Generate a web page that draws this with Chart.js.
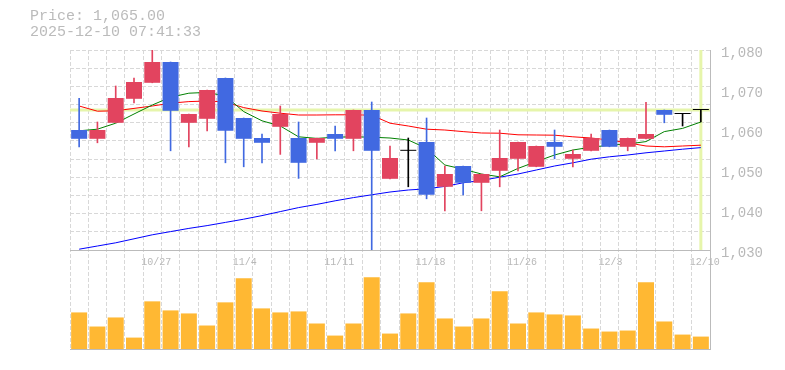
<!DOCTYPE html>
<html>
<head>
<meta charset="utf-8">
<script src="https://cdn.jsdelivr.net/npm/chart.js@4.4.1/dist/chart.umd.min.js"></script>
<style>
    body { margin: 0; background: #fff; }
    #wrap { position: relative; width: 785px; height: 370px; }
    #info {
        position: absolute;
        left: 30px;
        top: 9px;
        font: 15px "Liberation Mono", "DejaVu Sans Mono", monospace;
        line-height: 16px;
        color: #bbb;
        white-space: pre;
    }
</style>
</head>
<body>
<div id="wrap">
    <canvas id="chart" width="785" height="370"></canvas>
    <div id="info">Price: 1,065.00
2025-12-10 07:41:33</div>
</div>
<script>
// Trading days shown on the chart
const dates = ['10/21','10/22','10/23','10/24','10/27','10/28','10/29','10/30','10/31',
    '11/4','11/5','11/6','11/7','11/10','11/11','11/12','11/13','11/14',
    '11/17','11/18','11/19','11/20','11/21','11/25','11/26','11/27','11/28',
    '12/1','12/2','12/3','12/4','12/5','12/8','12/9','12/10'];
const dateTicks = ['10/27','11/4','11/11','11/18','11/26','12/3','12/10'];
const priceTicks = [1030, 1040, 1050, 1060, 1070, 1080];

// Daily OHLC
const opens  = [1060.0,1057.8,1061.8,1067.8,1071.8,1077.0,1061.8,1062.8,1073.0,1063.0,1058.0,1060.8,1058.0,1056.8,1059.0,1057.8,1065.0,1047.8,1054.8,1057.0,1045.8,1051.0,1046.8,1049.8,1052.8,1050.8,1057.0,1052.8,1054.8,1060.0,1055.8,1057.8,1065.0,1064.0,1065.0];
const highs  = [1067.9,1062.0,1071.0,1073.0,1081.0,1077.0,1064.0,1070.0,1073.0,1063.0,1059.0,1066.0,1062.0,1058.0,1061.0,1065.0,1067.0,1056.0,1058.0,1063.0,1051.0,1051.0,1049.0,1060.0,1057.0,1056.0,1060.0,1055.0,1059.0,1060.0,1058.0,1066.9,1065.0,1064.0,1065.0];
const lows   = [1055.8,1056.8,1061.8,1066.8,1071.8,1054.8,1055.8,1059.8,1051.8,1050.8,1051.8,1053.9,1047.9,1052.8,1054.8,1054.8,1030.0,1047.8,1045.8,1042.8,1039.8,1043.8,1039.8,1045.8,1049.8,1050.8,1052.8,1050.8,1054.8,1055.8,1054.8,1057.8,1061.8,1061.0,1062.0];
const closes = [1057.8,1060.0,1068.0,1072.0,1077.0,1064.8,1064.0,1070.0,1059.8,1057.8,1056.8,1064.0,1051.8,1058.0,1057.8,1065.0,1054.8,1053.0,1054.8,1043.8,1049.0,1046.8,1049.0,1053.0,1057.0,1056.0,1055.8,1054.0,1058.0,1055.8,1058.0,1059.0,1063.8,1064.0,1065.0];

// Moving averages
const ma5  = [1059.8,1060.2,1061.7,1064.0,1066.25,1068.2,1069.2,1069.4,1068.5,1064.6,1062.3,1061.0,1058.3,1057.9,1058.2,1058.3,1058.2,1058.0,1057.5,1055.4,1051.25,1050.2,1049.0,1048.3,1050.4,1052.1,1053.75,1055.0,1055.7,1056.2,1056.5,1057.1,1059.6,1060.4,1062.0];
const ma25 = [1066.0,1064.7,1064.8,1065.4,1066.0,1066.7,1067.1,1067.25,1067.0,1065.6,1064.75,1064.2,1063.75,1063.75,1063.8,1063.8,1063.7,1061.7,1061.0,1060.2,1060.0,1059.6,1059.25,1059.2,1058.8,1058.75,1058.7,1058.3,1058.0,1057.5,1056.8,1056.0,1055.8,1056.0,1056.2];
const ma75 = [1030.2,1031.0,1031.8,1032.8,1033.8,1034.6,1035.4,1036.1,1036.9,1037.7,1038.6,1039.6,1040.6,1041.4,1042.3,1043.1,1043.8,1044.5,1045.0,1045.3,1045.9,1046.8,1047.4,1048.2,1049.0,1050.0,1051.0,1051.8,1052.7,1053.3,1053.75,1054.3,1054.75,1055.2,1055.6];

// Volume (thousand shares)
const volumes = [1090,670,940,340,1420,1150,1060,700,1390,2110,1210,1090,1120,760,400,760,2140,460,1060,1990,910,670,910,1720,760,1090,1030,1000,610,520,550,1990,820,430,370];

const lastPrice = 1065;

const UP = '#e2445f';
const DOWN = '#4169e1';
const FLAT = '#000000';
const candleColors = opens.map((o, i) => closes[i] > o ? UP : (closes[i] < o ? DOWN : FLAT));

const gridColor = '#d8d8d8';
const axisColor = '#bbbbbb';
const textColor = '#b8b8b8';
const markColor = '#e6f5ab';
const dash = [4, 2];

function isLabelOnly(v) {
    return priceTicks.includes(v) && v !== 1030 && v !== 1080;
}

const ctx = document.getElementById('chart').getContext('2d');
new Chart(ctx, {
    type: 'bar',
    data: {
        labels: dates,
        datasets: [
            {
                type: 'bar',
                data: opens.map((o, i) => [o, closes[i]]),
                backgroundColor: candleColors,
                grouped: false,
                categoryPercentage: 1,
                barPercentage: 0.875,
                minBarLength: 1,
                yAxisID: 'y',
                order: 0
            },
            {
                type: 'bar',
                data: lows.map((l, i) => [l, highs[i]]),
                backgroundColor: candleColors,
                grouped: false,
                barThickness: 1,
                yAxisID: 'y',
                order: 1
            },
            {
                type: 'line',
                data: ma5,
                borderColor: '#008000',
                borderWidth: 1,
                pointRadius: 0,
                yAxisID: 'y',
                order: 2
            },
            {
                type: 'line',
                data: ma25,
                borderColor: '#ff0000',
                borderWidth: 1,
                pointRadius: 0,
                yAxisID: 'y',
                order: 3
            },
            {
                type: 'line',
                data: ma75,
                borderColor: '#0000ff',
                borderWidth: 1,
                pointRadius: 0,
                yAxisID: 'y',
                order: 4
            },
            {
                // current price marker
                type: 'line',
                data: [{x: -0.5, y: lastPrice}, {x: dates.length - 0.5, y: lastPrice}],
                xAxisID: 'xl',
                yAxisID: 'y',
                borderColor: markColor,
                borderWidth: 3,
                pointRadius: 0,
                order: 5
            },
            {
                // latest day marker
                type: 'line',
                data: [{x: dates.length - 1, y: 1030}, {x: dates.length - 1, y: 1080}],
                xAxisID: 'xl',
                yAxisID: 'y',
                borderColor: markColor,
                borderWidth: 3,
                pointRadius: 0,
                order: 5
            },
            {
                type: 'bar',
                data: volumes,
                backgroundColor: '#ffb833',
                grouped: false,
                categoryPercentage: 1,
                barPercentage: 0.875,
                yAxisID: 'yv',
                order: 6
            }
        ]
    },
    options: {
        responsive: false,
        animation: false,
        devicePixelRatio: 1,
        layout: { padding: { left: 70, top: 50, right: 0, bottom: 0 } },
        plugins: {
            legend: { display: false },
            tooltip: { enabled: false }
        },
        scales: {
            x: {
                type: 'category',
                offset: true,
                grid: { offset: true, color: gridColor, drawTicks: false },
                border: { display: true, color: axisColor, dash: dash },
                ticks: {
                    autoSkip: false,
                    maxRotation: 0,
                    mirror: true,
                    align: 'start',
                    labelOffset: -11,
                    padding: 81,
                    color: textColor,
                    font: { family: '"Liberation Mono", monospace', size: 10 },
                    callback: function(v, i) {
                        const d = dates[i];
                        return dateTicks.includes(d) ? d : '';
                    }
                },
                afterFit: s => {
                    s.height = 21;
                    s.paddingLeft = 0;
                    s.paddingRight = 0;
                }
            },
            xl: {
                type: 'linear',
                display: false,
                offset: false,
                min: -0.5,
                max: dates.length - 0.5
            },
            y: {
                type: 'linear',
                position: 'right',
                stack: 'panels',
                stackWeight: 200,
                min: 1030,
                max: 1080,
                afterBuildTicks: s => {
                    const t = [];
                    for (let k = 0; k <= 11; k++) t.push({ value: 1030 + k * 50 / 11 });
                    priceTicks.forEach(v => { if (isLabelOnly(v)) t.push({ value: v }); });
                    s.ticks = t;
                },
                grid: {
                    drawTicks: false,
                    color: c => {
                        if (c.type !== 'tick') return gridColor;
                        if (isLabelOnly(c.tick.value)) return 'rgba(0,0,0,0)';
                        return c.tick.value === 1030 ? axisColor : gridColor;
                    }
                },
                border: {
                    display: true,
                    color: axisColor,
                    dash: c => (c.type === 'tick' && c.tick.value === 1030) ? [] : dash
                },
                ticks: {
                    autoSkip: false,
                    padding: 11,
                    labelOffset: 3,
                    color: textColor,
                    font: { family: '"Liberation Mono", monospace', size: 14 },
                    callback: v => priceTicks.includes(v) ? v.toLocaleString('en-US') : ''
                },
                afterFit: s => { s.width = 75; }
            },
            yv: {
                type: 'linear',
                position: 'right',
                stack: 'panels',
                stackWeight: 99,
                min: 0,
                max: 2950,
                grid: { display: false },
                border: { display: true, color: axisColor },
                ticks: { display: false },
                afterFit: s => { s.width = 75; }
            }
        }
    }
});
</script>
</body>
</html>
